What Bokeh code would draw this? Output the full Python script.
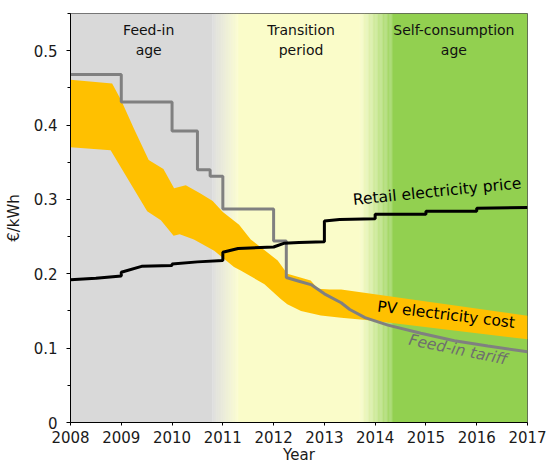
import numpy as np
from bokeh.plotting import figure
from bokeh.models import FixedTicker
from bokeh.embed import file_html
from bokeh.resources import INLINE
from bokeh.core.properties import value

# ---------------- data ----------------
x_ticks = [2008, 2009, 2010, 2011, 2012, 2013, 2014, 2015, 2016, 2017]
y_ticks = [0, 0.1, 0.2, 0.3, 0.4, 0.5]
y_tick_labels = ["0", "0.1", "0.2", "0.3", "0.4", "0.5"]
y_minor_ticks = [0.05, 0.15, 0.25, 0.35, 0.45, 0.55]

# background zones (solid parts), gradients in between
zone_line1 = ["Feed-in", "Transition", "Self-consumption"]
zone_line2 = ["age", "period", "age"]
zone_label_x = [2009.54, 2012.54, 2015.55]
zone_colors = ["#d9d9d9", "#fafcc9", "#92d050"]
zone_start = [2008.0, 2011.3, 2014.35]
zone_end = [2010.8, 2013.7, 2017.0]

# PV electricity cost band
pv_upper_x = [2008.0, 2008.82, 2009.0, 2009.25, 2009.54, 2009.83, 2010.04, 2010.27,
              2010.56, 2010.8, 2011.0, 2011.32, 2011.55, 2012.08, 2012.27, 2012.73,
              2012.87, 2013.1, 2013.33, 2017.0]
pv_upper_y = [0.461, 0.456, 0.433, 0.395, 0.353, 0.341, 0.315, 0.319,
              0.308, 0.298, 0.283, 0.266, 0.246, 0.218, 0.200, 0.191,
              0.180, 0.179, 0.179, 0.1436]
pv_lower_x = [2008.0, 2008.79, 2009.51, 2009.78, 2010.03, 2010.15, 2010.43, 2010.83,
              2011.22, 2011.36, 2011.82, 2012.14, 2012.27, 2012.54, 2012.93, 2013.33,
              2013.92, 2017.0]
pv_lower_y = [0.370, 0.366, 0.284, 0.272, 0.251, 0.253, 0.246, 0.231,
              0.209, 0.204, 0.186, 0.166, 0.159, 0.150, 0.144, 0.141,
              0.137, 0.112]

# Feed-in tariff
fit_x = [2008.0, 2009.0, 2009.0, 2010.0, 2010.0, 2010.5, 2010.5, 2010.75, 2010.75,
         2011.0, 2011.0, 2012.0, 2012.0, 2012.25, 2012.25, 2012.5, 2012.75, 2013.0,
         2013.33, 2013.5, 2013.8, 2014.25, 2014.9, 2015.56, 2016.22, 2017.0]
fit_y = [0.468, 0.468, 0.431, 0.431, 0.392, 0.392, 0.340, 0.340, 0.331,
         0.331, 0.287, 0.287, 0.244, 0.244, 0.195, 0.190, 0.185, 0.173,
         0.161, 0.152, 0.141, 0.131, 0.120, 0.110, 0.103, 0.095]

# Retail electricity price
retail_x = [2008.0, 2008.5, 2009.0, 2009.0, 2009.4, 2010.0, 2010.0, 2010.5, 2011.0,
            2011.0, 2011.3, 2012.0, 2012.2, 2012.5, 2013.0, 2013.0, 2013.3, 2014.0,
            2014.0, 2015.0, 2015.0, 2016.0, 2016.0, 2017.0]
retail_y = [0.192, 0.194, 0.197, 0.202, 0.210, 0.211, 0.213, 0.216, 0.218,
            0.229, 0.234, 0.236, 0.241, 0.242, 0.243, 0.271, 0.273, 0.274,
            0.280, 0.280, 0.284, 0.284, 0.288, 0.289]

# series labels
series_text = ["Retail electricity price", "PV electricity cost", "Feed-in tariff"]
series_label_x = [2015.22, 2015.40, 2015.63]
series_label_y = [0.3105, 0.1449, 0.0978]
series_label_deg = [5.7, -6.8, -11.6]
series_label_color = ["#000000", "#000000", "#6e6e6e"]
series_label_style = ["normal", "normal", "italic"]

FONT = "DejaVu Sans"

# ---------------- figure ----------------
p = figure(frame_width=457, frame_height=409, x_range=(2008, 2017), y_range=(0, 0.55),
           output_backend="svg", toolbar_location=None,
           min_border_left=70, min_border_right=22, min_border_top=13, min_border_bottom=0)
p.background_fill_color = "white"
p.border_fill_color = "white"
p.outline_line_color = "#555555"
p.outline_line_width = 1
p.grid.visible = False

# background zones
def hex2rgb(h):
    h = h.lstrip("#")
    return [int(h[i:i + 2], 16) for i in (0, 2, 4)]

def rgb2hex(c):
    return "#%02x%02x%02x" % tuple(int(round(v)) for v in c)

lefts, rights, cols = [], [], []
for i in range(3):
    lefts.append(zone_start[i]); rights.append(zone_end[i]); cols.append(zone_colors[i])
    if i < 2:
        a, b = zone_end[i], zone_start[i + 1]
        c1, c2 = np.array(hex2rgb(zone_colors[i])), np.array(hex2rgb(zone_colors[i + 1]))
        n = 40
        edges = np.linspace(a, b, n + 1)
        for k in range(n):
            t = (k + 0.5) / n
            lefts.append(edges[k]); rights.append(edges[k + 1] + 0.002)
            cols.append(rgb2hex(c1 + (c2 - c1) * t))
p.quad(left=lefts, right=rights, bottom=0, top=0.55, fill_color=cols, line_color=None)

# PV band
p.patch(x=pv_upper_x + pv_lower_x[::-1], y=pv_upper_y + pv_lower_y[::-1],
        fill_color="#ffc000", line_color=None)

# lines
p.line(fit_x, fit_y, line_color="#808080", line_width=3)
p.line(retail_x, retail_y, line_color="#000000", line_width=3)

# zone labels
px_per_unit = 409 / 0.55
p.text(x=zone_label_x, y=[0.55 - 16 / px_per_unit] * 3, text=zone_line1,
       text_font=value(FONT), text_font_size="14px", text_color="#111111",
       text_align="center", text_baseline="middle")
p.text(x=zone_label_x, y=[0.55 - 36 / px_per_unit] * 3, text=zone_line2,
       text_font=value(FONT), text_font_size="14px", text_color="#111111",
       text_align="center", text_baseline="middle")

for t, x, y, d, c, s in zip(series_text, series_label_x, series_label_y,
                            series_label_deg, series_label_color, series_label_style):
    p.text(x=[x], y=[y], text=[t], angle=np.deg2rad(d), text_font=value(FONT),
           text_font_size="15.5px", text_color=c, text_font_style=s,
           text_align="center", text_baseline="middle")

# axes
p.xaxis.ticker = FixedTicker(ticks=x_ticks)
p.yaxis.ticker = FixedTicker(ticks=y_ticks, minor_ticks=y_minor_ticks)
p.yaxis.major_label_overrides = {v: l for v, l in zip(y_ticks, y_tick_labels)}
p.xaxis.minor_tick_line_color = None

for ax in (p.xaxis, p.yaxis):
    ax.axis_line_color = "black"
    ax.major_tick_line_color = "black"
    ax.major_tick_out = 4
    ax.major_tick_in = 0
    ax.major_label_text_font = FONT
    ax.major_label_text_font_size = "15px"
    ax.major_label_text_color = "#1a1a1a"
    ax.axis_label_text_font = FONT
    ax.axis_label_text_font_style = "normal"
    ax.axis_label_text_color = "#1a1a1a"

p.yaxis.minor_tick_line_color = "black"
p.yaxis.minor_tick_out = 3
p.yaxis.minor_tick_in = 0
p.yaxis.major_label_standoff = 9
p.yaxis.axis_label = "€/kWh"
p.yaxis.axis_label_text_font_size = "15px"
p.yaxis.axis_label_standoff = 8

p.xaxis.major_tick_out = 3
p.xaxis.major_label_standoff = 5
p.xaxis.axis_label = "Year"
p.xaxis.axis_label_text_font_size = "15px"
p.xaxis.axis_label_standoff = 0

open("out.html", "w").write(file_html(p, INLINE))
